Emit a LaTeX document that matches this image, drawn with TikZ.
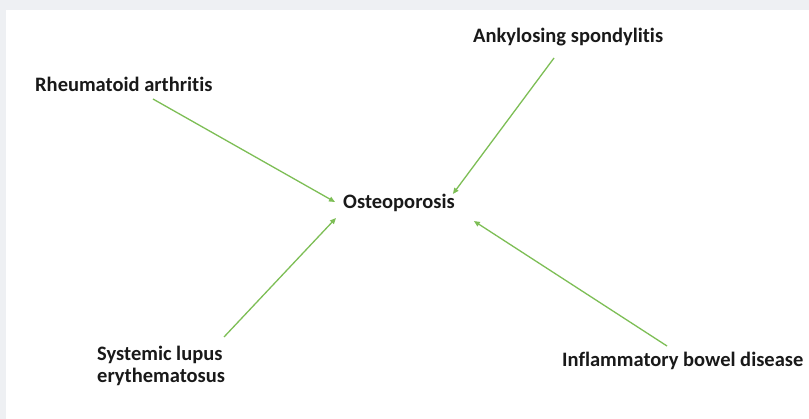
\documentclass[tikz,border=0pt]{standalone}
\usepackage{fontspec}
\setmainfont{Carlito}[Ligatures={NoCommon}]
\usetikzlibrary{arrows.meta,calc}
\definecolor{framegray}{RGB}{238,240,243}
\definecolor{arrowgreen}{RGB}{125,190,85}
\begin{document}
\begin{tikzpicture}[x=1pt,y=-1pt,
  lbl/.style={inner sep=0pt,anchor=base west,font=\fontsize{20.5}{22}\selectfont\bfseries,text=black!90},
  arr/.style={draw=arrowgreen,line width=1.3pt,-{Triangle[length=6pt,width=5pt]}}]
\useasboundingbox (0,0) rectangle (809,419);
\fill[framegray] (0,0) rectangle (809,419);
\fill[white] (6,10) rectangle (809,419);
\node[lbl] (ra) at (35,92) {Rheumatoid arthritis};
\node[lbl] (as) at (473,43) {Ankylosing spondylitis};
\node[lbl] (ost) at (343,209) {Osteoporosis};
\node[lbl,align=left] (sle) at (97,383) {Systemic lupus\\erythematosus};
\node[lbl] (ibd) at (562,367) {Inflammatory bowel disease};
\draw[arr] ($(ra.base west)+(118,7)$) -- ($(ost.base west)+(-8,-7)$);
\draw[arr] ($(as.base west)+(81,15)$) -- ($(ost.base east)+(-2,-15)$);
\draw[arr] ($(sle.base west)+(127,-46)$) -- ($(ost.base west)+(-7,9)$);
\draw[arr] ($(ibd.base west)+(105,-21)$) -- ($(ost.base east)+(19,12)$);
\end{tikzpicture}
\end{document}
